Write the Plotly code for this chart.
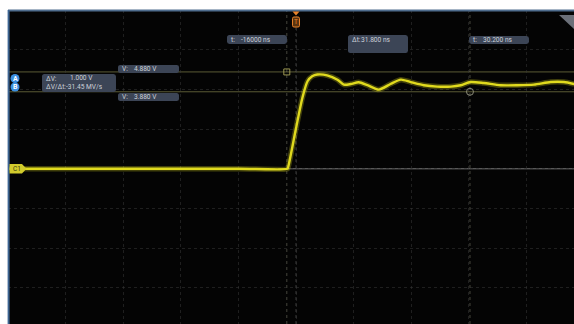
import plotly.graph_objects as go

# ---------------- data ----------------
time_ns = [-50, -30, -10, -1.5, -1.4, 0, 1.1, 2.0, 2.8, 3.7, 5.4, 7.2, 8.3, 9.5,
           10.9, 12.4, 14.4, 16.4, 18.2, 19.9, 22.2, 24.5, 26.9, 28.6, 30.3,
           32.6, 35.5, 38.4, 41.3, 44.2, 46.5, 48.3]
volts = [0, 0, 0, 0, 0.05, 2.04, 3.57, 4.41, 4.66, 4.75, 4.71, 4.49, 4.24, 4.27,
         4.36, 4.21, 3.99, 4.27, 4.49, 4.37, 4.21, 4.14, 4.14, 4.21, 4.37,
         4.32, 4.21, 4.21, 4.24, 4.37, 4.37, 4.27]

cursor_t = [-1.6, 30.2]      # ns
cursor_v = [4.88, 3.88]      # V
readout_t_a = "-16000 ns"
readout_t_b = "30.200 ns"
readout_dt = "31.800 ns"
readout_va = "4.880 V"
readout_vb = "3.880 V"
readout_dv = "1.000 V"
readout_dvdt = "-31.45 MV/s"

X_RANGE = [-50, 48.26]
Y_RANGE = [-7.82, 8]

# ---------------- layout helpers ----------------
W, H = 574, 324
L, T = 8, 10
PW, PH = W - L, H - T


def px(x):
    return (x - L) / PW


def py(y):
    return 1 - (y - T) / PH


def rrect(x0, y0, x1, y1, r=2.5):
    pts = [("M", [(x0 + r, y0)]), ("L", [(x1 - r, y0)]), ("Q", [(x1, y0), (x1, y0 + r)]),
           ("L", [(x1, y1 - r)]), ("Q", [(x1, y1), (x1 - r, y1)]), ("L", [(x0 + r, y1)]),
           ("Q", [(x0, y1), (x0, y1 - r)]), ("L", [(x0, y0 + r)]), ("Q", [(x0, y0), (x0 + r, y0)])]
    s = ""
    for cmd, pp in pts:
        s += cmd + " " + " ".join(f"{px(a):.5f},{py(b):.5f}" for a, b in pp) + " "
    return s + "Z"


def poly(points):
    return "M " + " L ".join(f"{px(a):.5f},{py(b):.5f}" for a, b in points) + " Z"


BOX = "#3c4556"
TXT = "#cdd1d8"
FONT = "Roboto"
YEL = "#e0da1e"

fig = go.Figure()

# glow / noise band of the trace
fig.add_trace(go.Scatter(x=time_ns, y=volts, mode="lines",
                         line=dict(color="rgba(210,205,30,0.3)", width=5.5, shape="spline", smoothing=0.7),
                         hoverinfo="skip", showlegend=False))
fig.add_trace(go.Scatter(x=time_ns, y=volts, mode="lines",
                         line=dict(color=YEL, width=2.4, shape="spline", smoothing=0.7),
                         showlegend=False))

# cursor markers
fig.add_trace(go.Scatter(x=[cursor_t[0]], y=[cursor_v[0]], mode="markers",
                         marker=dict(symbol="square-open", size=6, color="rgba(170,165,90,0.9)", line=dict(width=1)),
                         showlegend=False, hoverinfo="skip"))
fig.add_trace(go.Scatter(x=[cursor_t[1]], y=[cursor_v[1]], mode="markers",
                         marker=dict(symbol="circle-open", size=7, color="rgba(150,150,130,0.9)", line=dict(width=1)),
                         showlegend=False, hoverinfo="skip"))

shapes = []
# horizontal cursor lines
for v in cursor_v:
    shapes.append(dict(type="line", xref="paper", yref="y", x0=0, x1=1, y0=v, y1=v,
                       line=dict(color="rgba(130,130,75,0.7)", width=1), layer="below"))
# vertical cursor lines
for t in cursor_t:
    shapes.append(dict(type="line", xref="x", yref="paper", x0=t, x1=t, y0=0, y1=1,
                       line=dict(color="rgba(150,150,130,0.45)", width=1, dash="dot"), layer="below"))
# center vertical (trigger) line
shapes.append(dict(type="line", xref="x", yref="paper", x0=0, x1=0, y0=0, y1=0.95,
                   line=dict(color="rgba(140,140,140,0.4)", width=1, dash="dot"), layer="below"))
# trigger-level grey line
shapes.append(dict(type="line", xref="x", yref="y", x0=-1.5, x1=X_RANGE[1], y0=0, y1=0,
                   line=dict(color="rgba(185,185,185,0.65)", width=1), layer="below"))

# borders
shapes.append(dict(type="line", xref="paper", yref="paper", x0=0, x1=1, y0=py(10.5), y1=py(10.5),
                   line=dict(color="#4f6d8e", width=2)))
shapes.append(dict(type="line", xref="paper", yref="paper", x0=px(8.6), x1=px(8.6), y0=0, y1=py(10),
                   line=dict(color="#3e6592", width=2)))

# readout boxes
boxes = [(227, 35, 287, 44), (348, 35, 408, 53), (469, 36, 529, 44),
         (118, 65, 179, 73), (42, 74, 116, 92), (118, 93, 179, 101)]
for b in boxes:
    shapes.append(dict(type="path", xref="paper", yref="paper", path=rrect(*b),
                       fillcolor=BOX, line=dict(width=0)))

# A / B badges
for yc in (78.5, 87):
    shapes.append(dict(type="circle", xref="paper", yref="paper",
                       x0=px(10.5), x1=px(19.5), y0=py(yc + 4.5), y1=py(yc - 4.5),
                       fillcolor="#3b8fe0", line=dict(width=0)))

# C1 tag
shapes.append(dict(type="path", xref="paper", yref="paper",
                   path=poly([(9.5, 164), (22, 164), (26.5, 168.8), (22, 173.5), (9.5, 173.5)]),
                   fillcolor="#d2cb2c", line=dict(width=0)))

# trigger marker at top
shapes.append(dict(type="path", xref="paper", yref="paper",
                   path=poly([(292.5, 11.5), (299.5, 11.5), (296, 15.5)]),
                   fillcolor="#e8822a", line=dict(width=0)))
shapes.append(dict(type="path", xref="paper", yref="paper", path=rrect(292.5, 17, 299.5, 27, 1.5),
                   fillcolor="#5a3410", line=dict(color="#e8822a", width=1)))

# top-right grey corner triangle
shapes.append(dict(type="path", xref="paper", yref="paper",
                   path=poly([(559, 15), (574, 15), (574, 29)]),
                   fillcolor="#6b7079", line=dict(width=0)))

ann = []


def label(x, y, text, color=TXT, size=6.6):
    ann.append(dict(xref="paper", yref="paper", x=px(x), y=py(y), text=text,
                    showarrow=False, xanchor="left", yanchor="middle",
                    font=dict(family=FONT, size=size, color=color)))


label(229, 39.5, "t:")
label(239, 39.5, readout_t_a)
label(349.5, 40, "Δt:")
label(358.5, 39.5, readout_dt)
label(470.5, 40, "t:")
label(481, 40, readout_t_b)
label(120, 69, "V:")
label(132, 69, readout_va)
label(44, 78.5, "ΔV:")
label(68, 78, readout_dv)
label(44, 87, "ΔV/Δt:" + readout_dvdt)
label(120, 97, "V:")
label(132, 97, readout_vb)

ann.append(dict(xref="paper", yref="paper", x=px(15), y=py(78.5), text="<b>A</b>", showarrow=False,
                xanchor="center", yanchor="middle", font=dict(family=FONT, size=7, color="white")))
ann.append(dict(xref="paper", yref="paper", x=px(15), y=py(87), text="<b>B</b>", showarrow=False,
                xanchor="center", yanchor="middle", font=dict(family=FONT, size=7, color="white")))
ann.append(dict(xref="paper", yref="paper", x=px(16.5), y=py(168.8), text="C1", showarrow=False,
                xanchor="center", yanchor="middle", font=dict(family=FONT, size=6.5, color="#3b3a10")))
ann.append(dict(xref="paper", yref="paper", x=px(296), y=py(22), text="T", showarrow=False,
                xanchor="center", yanchor="middle", font=dict(family=FONT, size=6.5, color="#e8822a")))

fig.update_layout(
    width=W, height=H,
    margin=dict(l=L, r=0, t=T, b=0),
    paper_bgcolor="white",
    plot_bgcolor="#040404",
    shapes=shapes,
    annotations=ann,
    xaxis=dict(range=X_RANGE, dtick=10, tick0=0, showgrid=True, griddash="dot",
               gridcolor="rgba(55,55,55,0.55)", gridwidth=1, zeroline=False,
               showticklabels=False, ticks="", showline=False, fixedrange=True),
    yaxis=dict(range=Y_RANGE, dtick=2, tick0=0, showgrid=True, griddash="dot",
               gridcolor="rgba(55,55,55,0.55)", gridwidth=1, zeroline=False,
               showticklabels=False, ticks="", showline=False, fixedrange=True),
    showlegend=False,
)

fig.write_html("out.html", config={"displayModeBar": False},
               post_script="document.body.style.margin='0px';document.body.style.overflow='hidden';")
